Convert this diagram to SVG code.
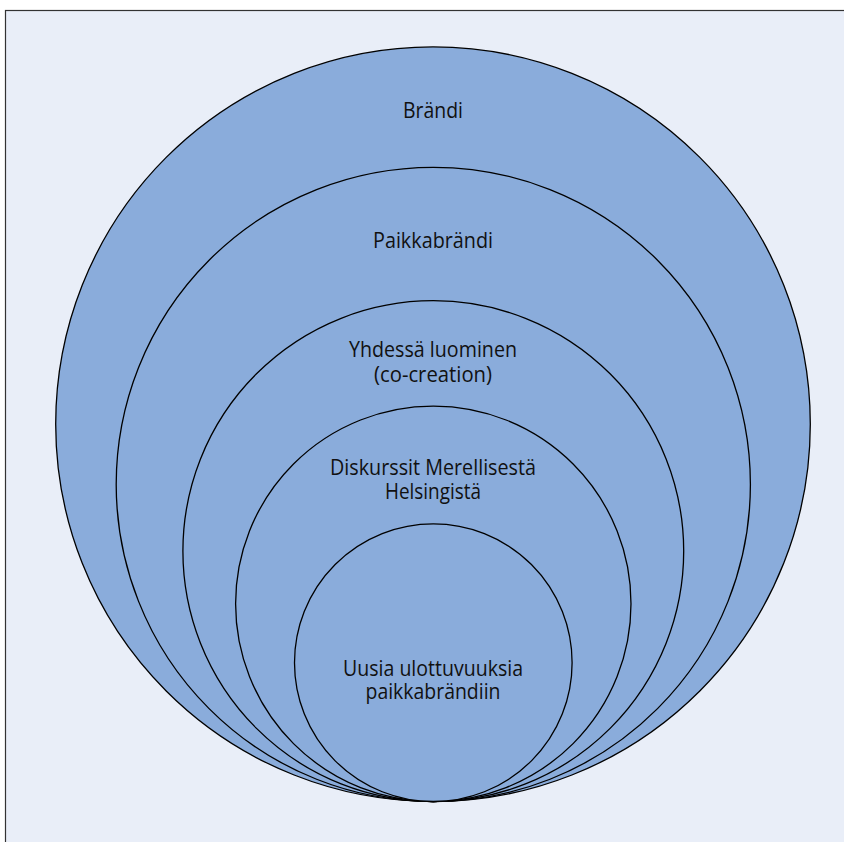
<svg xmlns="http://www.w3.org/2000/svg" width="844" height="842" viewBox="0 0 844 842">
<style>
.c{fill:#8AACDB;stroke:#000;stroke-width:1.3}
.t{font-family:"Open Sans","Noto Sans",sans-serif;font-size:21px;fill:#111;text-anchor:middle}
</style>
<rect x="0" y="0" width="844" height="842" fill="#ffffff"/>
<rect x="5.5" y="10.5" width="850" height="850" fill="#E9EEF8" stroke="#333" stroke-width="1.2"/>
<g id="n1"><circle class="c" cx="433" cy="424.2" r="377.3"/><text class="t" x="433" y="118" textLength="60" lengthAdjust="spacingAndGlyphs">Brändi</text></g>
<g id="n2"><circle class="c" cx="433.3" cy="484.4" r="317.1"/><text class="t" x="433" y="248" textLength="120" lengthAdjust="spacingAndGlyphs">Paikkabrändi</text></g>
<g id="n3"><circle class="c" cx="433.3" cy="551.1" r="250.4"/><text class="t" x="433" y="357" textLength="168" lengthAdjust="spacingAndGlyphs">Yhdessä luominen</text><text class="t" x="433" y="382" textLength="118" lengthAdjust="spacingAndGlyphs">(co-creation)</text></g>
<g id="n4"><circle class="c" cx="433.3" cy="603.8" r="197.7"/><text class="t" x="433" y="475" textLength="206" lengthAdjust="spacingAndGlyphs">Diskurssit Merellisestä</text><text class="t" x="433" y="499" textLength="96" lengthAdjust="spacingAndGlyphs">Helsingistä</text></g>
<g id="n5"><circle class="c" cx="433.3" cy="662.7" r="138.8"/><text class="t" x="433" y="676" textLength="180" lengthAdjust="spacingAndGlyphs">Uusia ulottuvuuksia</text><text class="t" x="433" y="699" textLength="135" lengthAdjust="spacingAndGlyphs">paikkabrändiin</text></g>
<g id="connectors"/>
</svg>
